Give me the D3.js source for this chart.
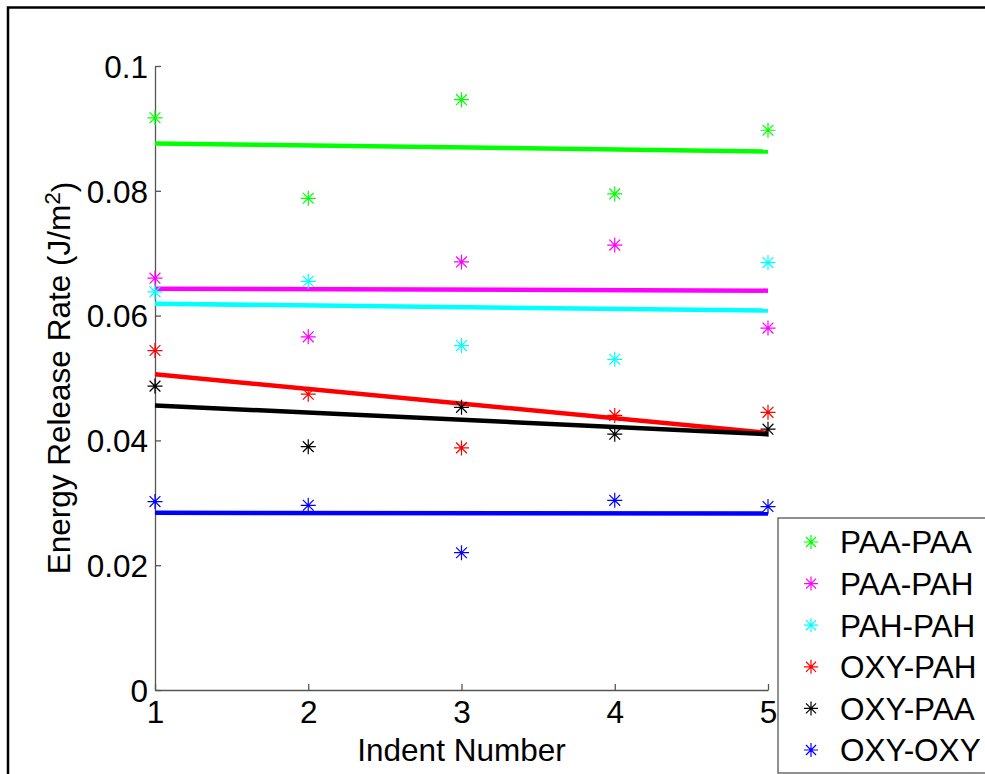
<!DOCTYPE html>
<html>
<head>
<meta charset="utf-8">
<script src="https://cdn.jsdelivr.net/npm/d3@7"></script>
<style>
html,body{margin:0;padding:0;background:#fff;overflow:hidden;}
svg{display:block;font-family:"Liberation Sans",Arial,sans-serif;}
</style>
</head>
<body>
<svg id="chart" width="985" height="774"></svg>
<script>
// ---- data ----
const indents = [1, 2, 3, 4, 5];
const seriesNames = ["PAA-PAA", "PAA-PAH", "PAH-PAH", "OXY-PAH", "OXY-PAA", "OXY-OXY"];
const seriesColors = ["#00ff00", "#ff00ff", "#00ffff", "#ff0000", "#000000", "#0000ff"];
const paaPaa = [0.0917, 0.0788, 0.0946, 0.0795, 0.0897];
const paaPah = [0.0660, 0.0566, 0.0686, 0.0713, 0.0580];
const pahPah = [0.0638, 0.0655, 0.0552, 0.0530, 0.0685];
const oxyPah = [0.0544, 0.0474, 0.0388, 0.0440, 0.0445];
const oxyPaa = [0.0487, 0.0390, 0.0453, 0.0410, 0.0418];
const oxyOxy = [0.0302, 0.0296, 0.0220, 0.0304, 0.0294];
// fitted trend lines: value at indent 1 and at indent 5
const fitStart = [0.0876, 0.0643, 0.0619, 0.0506, 0.0456, 0.0284];
const fitEnd   = [0.0863, 0.0640, 0.0608, 0.0412, 0.0410, 0.0283];
const yTicks = [0, 0.02, 0.04, 0.06, 0.08, 0.1];
const yTickLabels = ["0", "0.02", "0.04", "0.06", "0.08", "0.1"];
const xTicks = [1, 2, 3, 4, 5];
const xLabel = "Indent Number";
const yLabel = "Energy Release Rate (J/m";

const allValues = [paaPaa, paaPah, pahPah, oxyPah, oxyPaa, oxyOxy];

// ---- layout ----
const svg = d3.select("#chart");
const x = d3.scaleLinear().domain([1, 5]).range([155, 768]);
const y = d3.scaleLinear().domain([0, 0.1]).range([690, 66]);
const FS = 31.5;

// outer frame
svg.append("rect").attr("x", 8).attr("y", 7.5).attr("width", 1200).attr("height", 1000)
  .attr("fill", "none").attr("stroke", "#000").attr("stroke-width", 2.5);

// axes
const axisColor = "#555";
const yAxis = d3.axisLeft(y).tickValues(yTicks).tickSizeInner(-6).tickSizeOuter(0)
  .tickPadding(14).tickFormat((d, i) => yTickLabels[i]);
const gy = svg.append("g").attr("transform", `translate(${x(1)},0)`).call(yAxis);
const xAxis = d3.axisBottom(x).tickValues(xTicks).tickSizeInner(-6).tickSizeOuter(0)
  .tickPadding(14).tickFormat(d3.format("d"));
const gx = svg.append("g").attr("transform", `translate(0,${y(0)})`).call(xAxis);
[gx, gy].forEach(g => {
  g.select(".domain").attr("stroke", axisColor).attr("stroke-width", 1.3);
  g.selectAll(".tick line").attr("stroke", axisColor).attr("stroke-width", 1.3);
  g.selectAll(".tick text").attr("fill", "#000").style("font-size", FS + "px")
   .style("font-family", "'Liberation Sans', Arial, sans-serif");
});
gy.selectAll(".tick text").attr("dy", "0.36em").attr("x", -7);
gx.selectAll(".tick text").attr("dy", "0").attr("y", 33);

// axis labels
svg.append("text").attr("x", x(3)).attr("y", 761).attr("text-anchor", "middle")
  .style("font-size", FS + "px").text(xLabel);
const yl = svg.append("text").attr("transform", `translate(70,${378}) rotate(-90)`)
  .attr("text-anchor", "middle").style("font-size", FS + "px");
yl.append("tspan").text(yLabel);
yl.append("tspan").text("2").attr("dy", "-0.45em").style("font-size", (FS * 0.72) + "px");
yl.append("tspan").text(")").attr("dy", "0.45em");

// marker path
function star(r) {
  const d = r * 0.72;
  return `M${-r},0L${r},0M0,${-r}L0,${r}M${-d},${-d}L${d},${d}M${-d},${d}L${d},${-d}`;
}

// trend lines
seriesNames.forEach((name, i) => {
  svg.append("line")
    .attr("x1", x(indents[0])).attr("y1", y(fitStart[i]))
    .attr("x2", x(indents[indents.length - 1])).attr("y2", y(fitEnd[i]))
    .attr("stroke", seriesColors[i]).attr("stroke-width", 4.5);
});

// points
seriesNames.forEach((name, i) => {
  svg.append("g").selectAll("path").data(allValues[i]).join("path")
    .attr("transform", (d, j) => `translate(${x(indents[j])},${y(d)})`)
    .attr("d", star(7.5)).attr("fill", "none")
    .attr("stroke", seriesColors[i]).attr("stroke-width", 1.2);
});

// legend
const lg = svg.append("g");
lg.append("rect").attr("x", 778).attr("y", 518).attr("width", 300).attr("height", 255)
  .attr("fill", "#fff").attr("stroke", "#555").attr("stroke-width", 1.3);
seriesNames.forEach((name, i) => {
  const cy = 542 + i * 41.6;
  lg.append("path").attr("transform", `translate(811,${cy})`).attr("d", star(7))
    .attr("fill", "none").attr("stroke", seriesColors[i]).attr("stroke-width", 1.2);
  lg.append("text").attr("x", 840).attr("y", cy).attr("dy", "0.36em")
    .style("font-size", FS + "px").text(name);
});
</script>
</body>
</html>
